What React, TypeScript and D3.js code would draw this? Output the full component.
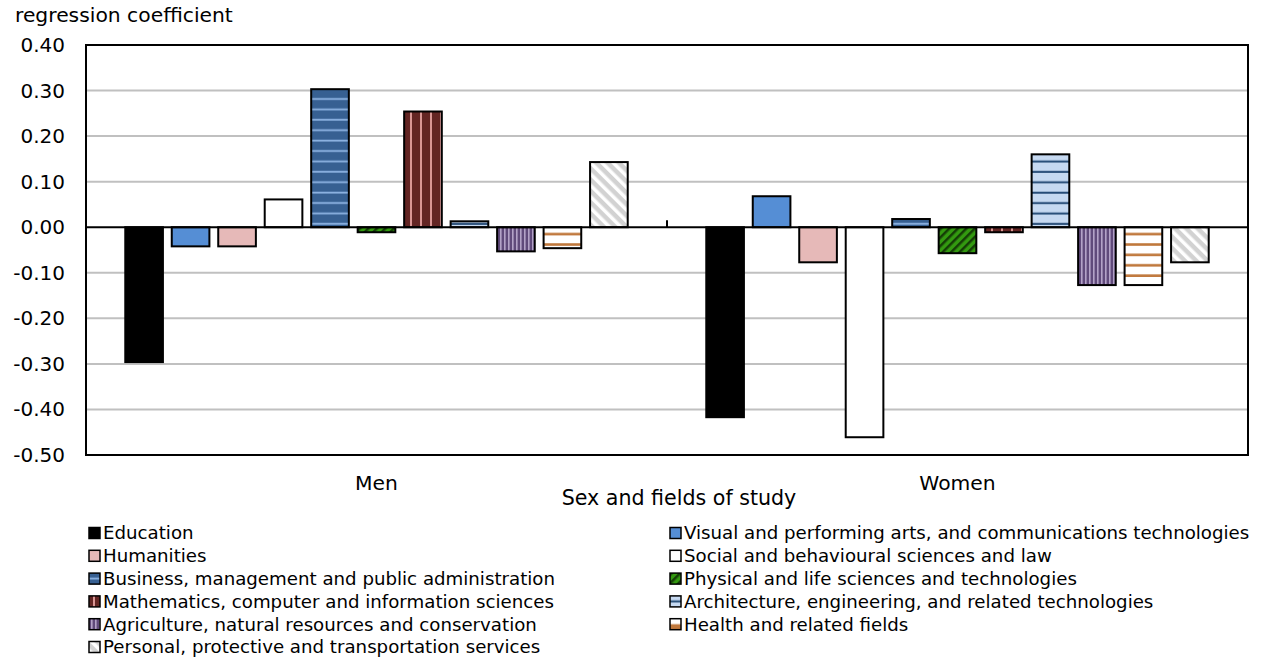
import React from "react";
import * as d3 from "d3";

const categories = ["Men", "Women"];
const fields = [
  "Education",
  "Visual and performing arts, and communications technologies",
  "Humanities",
  "Social and behavioural sciences and law",
  "Business, management and public administration",
  "Physical and life sciences and technologies",
  "Mathematics, computer and information sciences",
  "Architecture, engineering, and related technologies",
  "Agriculture, natural resources and conservation",
  "Health and related fields",
  "Personal, protective and transportation services",
];
const menValues = [-0.296, -0.042, -0.042, 0.061, 0.303, -0.011, 0.254, 0.013, -0.053, -0.046, 0.143];
const womenValues = [-0.417, 0.068, -0.077, -0.461, 0.018, -0.057, -0.011, 0.16, -0.127, -0.127, -0.077];
const yTicks = [0.4, 0.3, 0.2, 0.1, 0.0, -0.1, -0.2, -0.3, -0.4, -0.5];
const fills = ["#000000", "#558ED5", "#E6B9B8", "#FFFFFF", "url(#pBiz)", "url(#pPhys)", "url(#pMath)", "url(#pArch)", "url(#pAgri)", "url(#pHealth)", "url(#pPers)"];
const legendFills = ["#000000", "#558ED5", "#E6B9B8", "#FFFFFF", "url(#pBiz)", "url(#pPhys)", "url(#pMath)", "url(#pArch)", "url(#pAgri)", "url(#lHealth)", "url(#pPers)"];

const W = 1262, H = 660;
const M = { left: 86, right: 1248, top: 45, bottom: 455 };
const FONT = "'DejaVu Sans', Verdana, sans-serif";

export default function App() {
  const y = d3.scaleLinear().domain([-0.5, 0.4]).range([M.bottom, M.top]);
  const x0 = d3.scaleBand().domain(categories).range([M.left, M.right]).paddingInner(0).paddingOuter(0);
  const bw = x0.bandwidth();
  const x1 = d3.scaleBand().domain(fields).range([bw * 0.06, bw * 0.94]).paddingInner(0.19).paddingOuter(0.095);
  const series = [menValues, womenValues];
  const y0 = y(0);
  return (
    <svg width={W} height={H} style={{ display: "block", position: "absolute", left: 0, top: 0 }} fontFamily={FONT}>
      <defs>
        <pattern id="pBiz" patternUnits="userSpaceOnUse" width="10" height="10.4">
          <rect width="10" height="10.4" fill="#376092" />
          <rect y="4.5" width="10" height="1.8" fill="#8EB4E3" />
        </pattern>
        <pattern id="pMath" patternUnits="userSpaceOnUse" width="10" height="10">
          <rect width="10" height="10" fill="#632523" />
          <rect x="4" width="2" height="10" fill="#D99694" />
        </pattern>
        <pattern id="pArch" patternUnits="userSpaceOnUse" width="10" height="10.4">
          <rect width="10" height="10.4" fill="#C6D9F1" />
          <rect y="4.5" width="10" height="2" fill="#244A75" />
        </pattern>
        <pattern id="pAgri" patternUnits="userSpaceOnUse" width="4" height="10">
          <rect width="4" height="10" fill="#604A7B" />
          <rect x="2" width="1.6" height="10" fill="#B3A2C7" />
        </pattern>
        <pattern id="pHealth" patternUnits="userSpaceOnUse" width="10" height="10.4">
          <rect width="10" height="10.4" fill="#FFFFFF" />
          <rect y="4" width="10" height="2.6" fill="#C0783C" />
        </pattern>
        <pattern id="lHealth" patternUnits="objectBoundingBox" width="1" height="1">
          <rect width="11" height="11" fill="#FFFFFF" />
          <rect y="5.5" width="11" height="5.5" fill="#C0783C" />
        </pattern>
        <pattern id="pPhys" patternUnits="userSpaceOnUse" width="6" height="6" patternTransform="rotate(45)">
          <rect width="6" height="6" fill="#339A10" />
          <rect width="2.5" height="6" fill="#143D06" />
        </pattern>
        <pattern id="pPers" patternUnits="userSpaceOnUse" width="8" height="8" patternTransform="rotate(-45)">
          <rect width="8" height="8" fill="#D2D2D2" />
          <rect width="3.5" height="8" fill="#FFFFFF" />
        </pattern>
      </defs>

      <text x={15} y={22} fontSize={20.3} fill="#000">regression coefficient</text>

      {yTicks.map((t) => (
        <g key={t}>
          {t !== 0 && t !== 0.4 && t !== -0.5 && (
            <line x1={M.left} x2={M.right} y1={y(t)} y2={y(t)} stroke="#C0C0C0" strokeWidth={2} />
          )}
          <text x={65} y={y(t)} dy="0.35em" textAnchor="end" fontSize={20} fill="#000">
            {t.toFixed(2)}
          </text>
        </g>
      ))}

      {categories.map((c, ci) => (
        <g key={c} transform={`translate(${x0(c)},0)`}>
          {fields.map((f, fi) => {
            const v = series[ci][fi];
            const yy = y(Math.max(0, v));
            const h = Math.abs(y(v) - y0);
            return (
              <rect key={f} x={x1(f)} y={yy} width={x1.bandwidth()} height={h} fill={fills[fi]} stroke="#000" strokeWidth={2} />
            );
          })}
        </g>
      ))}

      <line x1={M.left} x2={M.right} y1={y0} y2={y0} stroke="#000" strokeWidth={2} />
      <line x1={x0("Women")} x2={x0("Women")} y1={y0 - 7} y2={y0} stroke="#000" strokeWidth={2} />
      <rect x={M.left} y={M.top} width={M.right - M.left} height={M.bottom - M.top} fill="none" stroke="#000" strokeWidth={2} />

      {categories.map((c) => (
        <text key={c} x={(x0(c) as number) + bw / 2} y={490} textAnchor="middle" fontSize={20.3} fill="#000">
          {c}
        </text>
      ))}
      <text x={679} y={505} textAnchor="middle" fontSize={20.6} fill="#000">Sex and fields of study</text>

      {fields.map((f, i) => {
        const col = i % 2;
        const row = Math.floor(i / 2);
        const lx = col === 0 ? 89 : 670;
        const ly = 533 + row * 22.8;
        return (
          <g key={f}>
            <g transform={`translate(${lx},${ly - 5.5})`}>
              <rect x={0} y={0} width={11} height={11} fill={legendFills[i]} stroke="#000" strokeWidth={1.5} />
            </g>
            <text x={lx + 14} y={ly} dy="0.35em" fontSize={18.2} fill="#000">{f}</text>
          </g>
        );
      })}
    </svg>
  );
}
